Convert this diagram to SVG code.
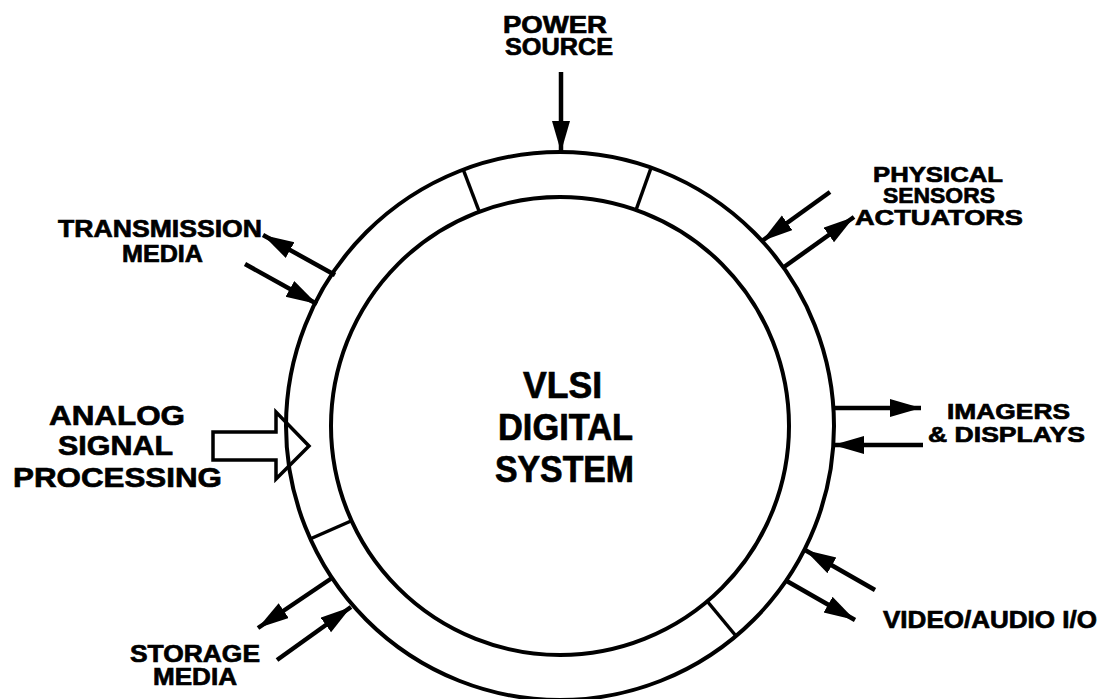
<svg xmlns="http://www.w3.org/2000/svg" width="1106" height="699" viewBox="0 0 1106 699">
<style>
.t{font-family:"Liberation Sans",Arial,Helvetica,sans-serif;font-weight:bold;fill:#000;stroke:#000;stroke-width:0.7}
.s22{font-size:22.5px}
.s24{font-size:24px}
.s28{font-size:28px}
.s36{font-size:36px}
.ring{fill:none;stroke:#000;stroke-width:4}
.div{stroke:#000;stroke-width:3.5}
.arr{fill:none;stroke:#000;stroke-width:4.5;marker-end:url(#ah)}
.block{fill:none;stroke:#000;stroke-width:3.5;stroke-linejoin:miter}
</style>
<defs>
<marker id="ah" markerUnits="userSpaceOnUse" markerWidth="34" markerHeight="20" refX="31" refY="9" orient="auto">
<path d="M0,0 L31,9 L0,18 z" fill="#000"/>
</marker>
</defs>
<rect width="1106" height="699" fill="#fff"/>
<g id="system">
<circle class="ring" cx="560" cy="426" r="274"/>
<circle class="ring" cx="560" cy="426" r="229"/>
<line class="div" x1="463" y1="169" x2="479" y2="211"/>
<line class="div" x1="651" y1="168" x2="636" y2="210"/>
<line class="div" x1="310" y1="539" x2="351" y2="521"/>
<line class="div" x1="736" y1="636" x2="707" y2="601"/>
<text class="t s36" x="523" y="398" textLength="79" lengthAdjust="spacingAndGlyphs">VLSI</text>
<text class="t s36" x="498" y="440" textLength="135" lengthAdjust="spacingAndGlyphs">DIGITAL</text>
<text class="t s36" x="495" y="482" textLength="139" lengthAdjust="spacingAndGlyphs">SYSTEM</text>
</g>
<g id="power">
<text class="t s24" x="503" y="33" textLength="104" lengthAdjust="spacingAndGlyphs">POWER</text>
<text class="t s24" x="505" y="55" textLength="108" lengthAdjust="spacingAndGlyphs">SOURCE</text>
</g>
<g id="transmission">
<text class="t s24" x="58" y="237" textLength="204" lengthAdjust="spacingAndGlyphs">TRANSMISSION</text>
<text class="t s24" x="122" y="262" textLength="81" lengthAdjust="spacingAndGlyphs">MEDIA</text>
</g>
<g id="sensors">
<text class="t s22" x="873" y="182" textLength="130" lengthAdjust="spacingAndGlyphs">PHYSICAL</text>
<text class="t s22" x="883" y="203" textLength="112" lengthAdjust="spacingAndGlyphs">SENSORS</text>
<text class="t s22" x="855" y="225" textLength="168" lengthAdjust="spacingAndGlyphs">ACTUATORS</text>
</g>
<g id="imagers">
<text class="t s22" x="947" y="419" textLength="123" lengthAdjust="spacingAndGlyphs">IMAGERS</text>
<text class="t s22" x="928" y="442" textLength="157" lengthAdjust="spacingAndGlyphs">&amp; DISPLAYS</text>
</g>
<g id="analog">
<text class="t s28" x="49" y="425" textLength="136" lengthAdjust="spacingAndGlyphs">ANALOG</text>
<text class="t s28" x="58" y="455" textLength="115" lengthAdjust="spacingAndGlyphs">SIGNAL</text>
<text class="t s28" x="13" y="487" textLength="209" lengthAdjust="spacingAndGlyphs">PROCESSING</text>
</g>
<g id="video">
<text class="t s24" x="883" y="628" textLength="214" lengthAdjust="spacingAndGlyphs">VIDEO/AUDIO I/O</text>
</g>
<g id="storage">
<text class="t s24" x="130" y="662" textLength="130" lengthAdjust="spacingAndGlyphs">STORAGE</text>
<text class="t s24" x="153" y="685" textLength="84" lengthAdjust="spacingAndGlyphs">MEDIA</text>
</g>
<g id="connectors">
<line class="arr" x1="561" y1="72" x2="561" y2="152"/>
<line class="arr" x1="335" y1="275" x2="263" y2="235"/>
<line class="arr" x1="245" y1="264" x2="317" y2="304"/>
<line class="arr" x1="830" y1="192" x2="762" y2="241"/>
<line class="arr" x1="784" y1="267" x2="854" y2="217"/>
<line class="arr" x1="832" y1="408" x2="921" y2="408"/>
<line class="arr" x1="923" y1="445" x2="833" y2="445"/>
<line class="arr" x1="875" y1="590" x2="805" y2="550"/>
<line class="arr" x1="785" y1="580" x2="855" y2="620"/>
<line class="arr" x1="332" y1="578" x2="258" y2="628"/>
<line class="arr" x1="277" y1="660" x2="351" y2="607"/>
<polygon class="block" points="213,432 276,432 276,412 309,446 276,479 276,460 213,460"/>
</g>
</svg>
